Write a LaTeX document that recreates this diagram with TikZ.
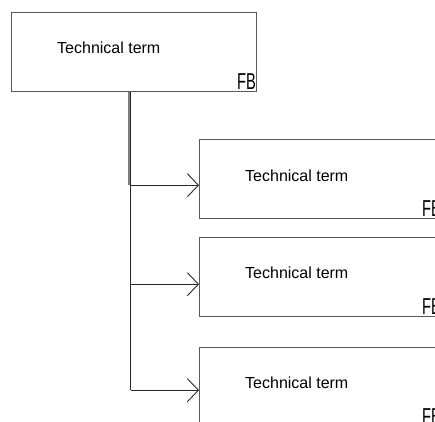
\documentclass[tikz,border=0pt]{standalone}
\usepackage{fontspec}
\setmainfont{Liberation Sans}
\usetikzlibrary{arrows.meta,positioning}

\begin{document}
\begin{tikzpicture}[x=1pt, y=-1pt, >={Straight Barb[length=11pt, width=23pt]},
    box/.style={draw=black!65, line width=1.4pt, minimum width=245pt, minimum height=79pt,
      inner sep=0pt, anchor=north west},
    term/.style={font=\fontsize{16}{19}\selectfont, inner sep=0pt, anchor=west},
    tag/.style={font=\fontsize{23}{23}\selectfont, xscale=0.64, inner sep=0pt,
      anchor=south east, xshift=-2pt, yshift=2.5pt},
    link/.style={->, line width=0.9pt, draw=black!85}]
\useasboundingbox (0,0) rectangle (435,421);

% boxes
\node[box] (main) at (11,12) {};
\node[box, minimum width=242pt] (sub1) at (199,139) {};
\node[box, minimum width=242pt] (sub2) at (199,237) {};
\node[box, minimum width=242pt] (sub3) at (199,347) {};

% texts
\node[term, right=46pt of main.west, yshift=4pt] (mainText) {Technical term};
\node[term, right=46pt of sub1.west, yshift=3pt] (sub1Text) {Technical term};
\node[term, right=46pt of sub2.west, yshift=4pt] (sub2Text) {Technical term};
\node[term, right=46pt of sub3.west, yshift=4pt] (sub3Text) {Technical term};
\node[tag] (mainTag) at (main.south east) {FB};
\node[tag] (sub1Tag) at (sub1.south east) {FB};
\node[tag] (sub2Tag) at (sub2.south east) {FB};
\node[tag] (sub3Tag) at (sub3.south east) {FB};

% trunk and connectors
\coordinate (trunk) at ([xshift=-3.5pt]main.south);
\coordinate (in1) at ([yshift=-6pt]sub1.west);
\coordinate (in2) at ([yshift=-7pt]sub2.west);
\coordinate (in3) at ([yshift=-3pt]sub3.west);
\draw[black!50, line width=3pt] ([xshift=-1pt]trunk) -- ([xshift=-1pt]trunk |- in1);
\draw[line width=1pt, black!85] (trunk) -- (trunk |- in3);
\draw[link] (trunk |- in1) -- (in1);
\draw[link] (trunk |- in2) -- (in2);
\draw[link] (trunk |- in3) -- (in3);
\end{tikzpicture}
\end{document}
